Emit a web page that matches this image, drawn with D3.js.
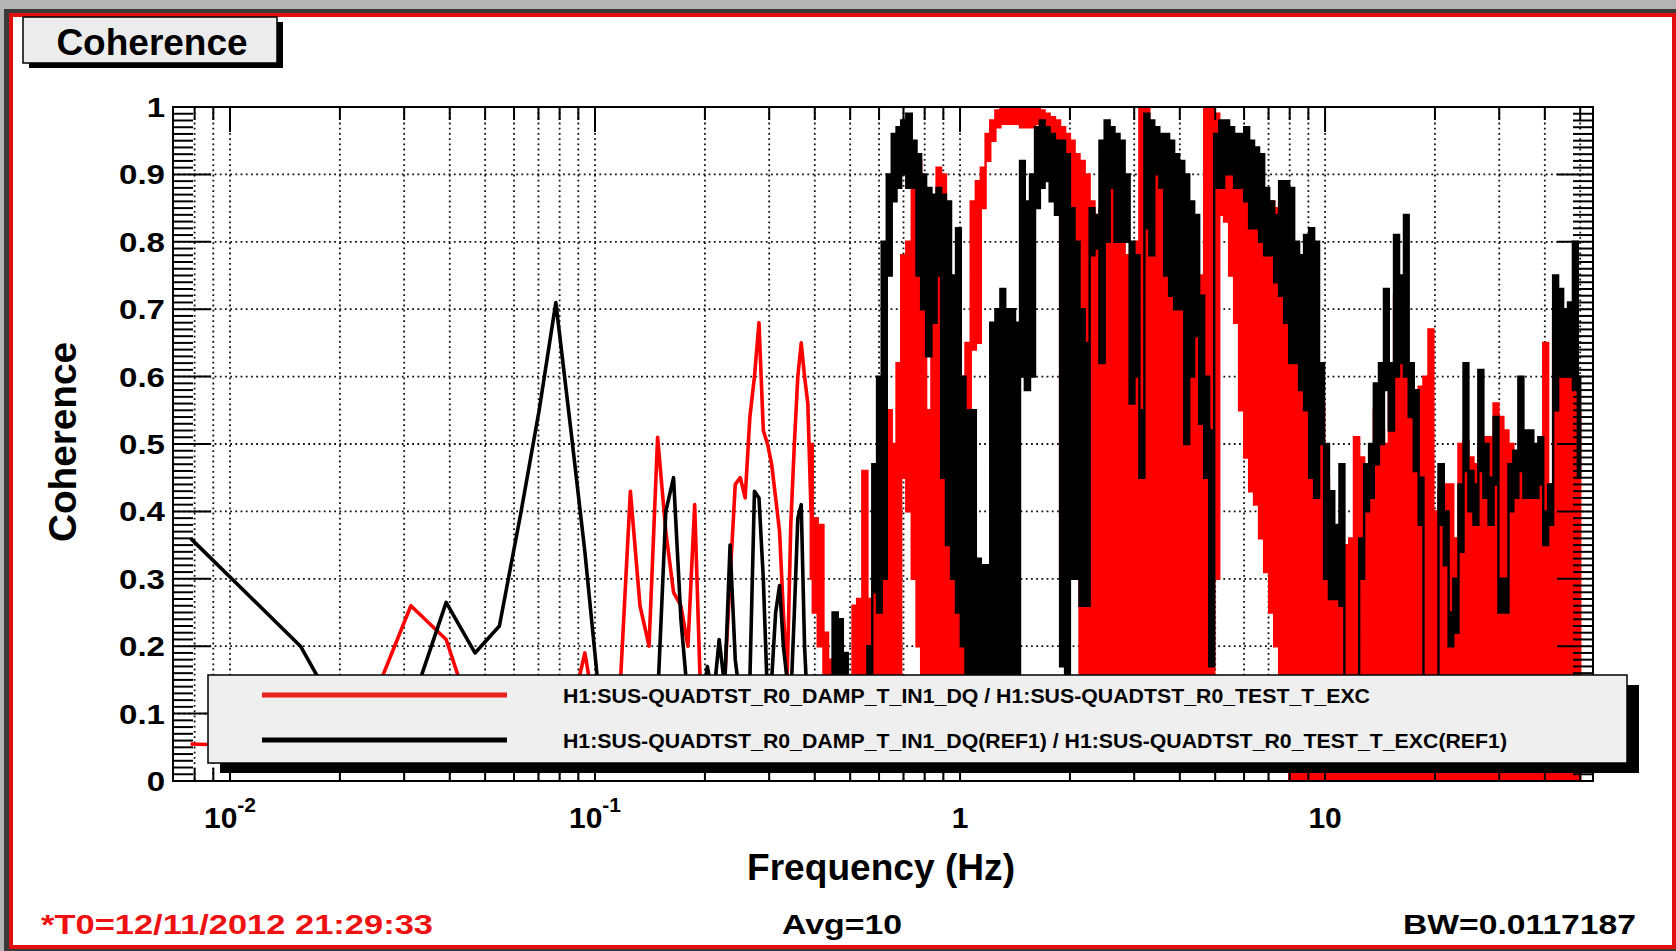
<!DOCTYPE html>
<html>
<head>
<meta charset="utf-8">
<title>Coherence</title>
<script src="https://d3js.org/d3.v7.min.js"></script>
<style>
  body { margin: 0; background: #b4b4b4; }
  text { font-family: "Liberation Sans", Arial, sans-serif; font-weight: bold; }
</style>
</head>
<body>
<div id="svgcontainer"></div>
<script>
var width = 1676, height = 951;

// low frequency bins (df = 0.0078125 Hz), one value per bin
var lowFreq = [0.0078, 0.0156, 0.0234, 0.0313, 0.0391, 0.0469, 0.0547, 0.0625, 0.0703, 0.0781,
               0.0859, 0.0938, 0.1016, 0.1094, 0.1172, 0.125, 0.1328, 0.1406, 0.1484, 0.1563,
               0.1641, 0.1719, 0.1797, 0.1875, 0.1953, 0.2031, 0.2109, 0.2188, 0.2266, 0.2344,
               0.2422, 0.25, 0.2578, 0.2656, 0.2734, 0.2813, 0.2891, 0.2969, 0.3047, 0.3125,
               0.3203, 0.3281, 0.3359, 0.3438, 0.3516, 0.3594, 0.3672, 0.375, 0.3828, 0.3906];
var redLow = [0.055, 0.05, 0.09, 0.26, 0.21, 0.08, 0.05, 0.1, 0.07, 0.12,
              0.1, 0.19, 0.08, 0.06, 0.14, 0.43, 0.26, 0.2, 0.51, 0.37,
              0.28, 0.26, 0.2, 0.41, 0.1, 0.05, 0.08, 0.1, 0.15, 0.3,
              0.44, 0.45, 0.42, 0.54, 0.6, 0.68, 0.52, 0.5, 0.47, 0.42,
              0.37, 0.25, 0.15, 0.38, 0.5, 0.6, 0.65, 0.6, 0.56, 0.4];
var blackLow = [0.36, 0.2, 0.03, 0.11, 0.265, 0.19, 0.23, 0.395, 0.55, 0.71,
                0.52, 0.34, 0.15, 0.08, 0.06, 0.1, 0.05, 0.08, 0.12, 0.4,
                0.45, 0.24, 0.12, 0.08, 0.1, 0.17, 0.12, 0.21, 0.14, 0.35,
                0.18, 0.12, 0.1, 0.15, 0.43, 0.42, 0.3, 0.12, 0.15, 0.25,
                0.29, 0.2, 0.15, 0.12, 0.25, 0.39, 0.41, 0.2, 0.1, 0.08];

// above 0.39 Hz the traces are too dense to follow: max / min read per column
var denseFreq = [0.39, 0.40, 0.415, 0.43, 0.44, 0.455, 0.47, 0.485, 0.50, 0.515,
                 0.53, 0.55, 0.565, 0.585, 0.60, 0.62, 0.64, 0.66, 0.68, 0.70,
                 0.725, 0.75, 0.77, 0.795, 0.82, 0.85, 0.875, 0.90, 0.93, 0.96,
                 0.99, 1.02, 1.05, 1.09, 1.12, 1.16, 1.19, 1.23, 1.27, 1.31,
                 1.35, 1.39, 1.44, 1.48, 1.53, 1.58, 1.63, 1.68, 1.73, 1.79,
                 1.85, 1.91, 1.97, 2.03, 2.09, 2.16, 2.23, 2.30, 2.37, 2.45,
                 2.53, 2.61, 2.69, 2.78, 2.87, 2.96, 3.05, 3.15, 3.25, 3.35,
                 3.46, 3.57, 3.68, 3.80, 3.92, 4.05, 4.18, 4.31, 4.45, 4.59,
                 4.74, 4.89, 5.05, 5.21, 5.37, 5.55, 5.72, 5.91, 6.10, 6.29,
                 6.49, 6.70, 6.92, 7.14, 7.37, 7.60, 7.85, 8.10, 8.36, 8.62,
                 8.90, 9.19, 9.48, 9.78, 10.1, 10.4, 10.8, 11.1, 11.5, 11.8,
                 12.2, 12.6, 13.0, 13.4, 13.8, 14.3, 14.7, 15.2, 15.7, 16.2,
                 16.7, 17.2, 17.8, 18.3, 18.9, 19.5, 20.1, 20.8, 21.5, 22.1,
                 22.8, 23.6, 24.3, 25.1, 25.9, 26.7, 27.6, 28.5, 29.4, 30.3,
                 31.3, 32.3, 33.3, 34.4, 35.5, 36.6, 37.8, 39.0, 40.2, 41.5,
                 42.8, 44.2, 45.6, 47.0, 48.5, 50.0];
var redHi = [0.5, 0.39, 0.38, 0.22, 0.18, 0.12, 0.1, 0.12, 0.14, 0.26,
             0.27, 0.46, 0.27, 0.29, 0.3, 0.55, 0.55, 0.5, 0.62, 0.78,
             0.8, 0.93, 0.92, 0.8, 0.55, 0.75, 0.91, 0.9, 0.75, 0.6,
             0.55, 0.6, 0.65, 0.86, 0.89, 0.91, 0.96, 0.98, 0.995, 1.0,
             1.0, 1.0, 1.0, 1.0, 1.0, 1.0, 1.0, 0.995, 0.99, 0.985,
             0.98, 0.97, 0.96, 0.95, 0.93, 0.92, 0.9, 0.86, 0.82, 0.85,
             0.92, 0.9, 0.82, 0.8, 0.78, 0.78, 0.8, 1.0, 1.0, 0.95,
             0.9, 0.9, 0.92, 0.9, 0.88, 0.72, 0.7, 0.7, 0.72, 0.75,
             1.0, 1.0, 0.99, 0.97, 0.96, 0.95, 0.93, 0.92, 0.9, 0.9,
             0.88, 0.87, 0.86, 0.86, 0.85, 0.86, 0.84, 0.78, 0.72, 0.68,
             0.62, 0.56, 0.56, 0.56, 0.45, 0.33, 0.33, 0.34, 0.35, 0.36,
             0.51, 0.48, 0.46, 0.45, 0.55, 0.52, 0.5, 0.61, 0.72, 0.72,
             0.6, 0.6, 0.575, 0.585, 0.6, 0.67, 0.4, 0.43, 0.44, 0.44,
             0.36, 0.5, 0.505, 0.48, 0.47, 0.5, 0.51, 0.51, 0.56, 0.54,
             0.52, 0.5, 0.47, 0.47, 0.45, 0.45, 0.44, 0.44, 0.65, 0.44,
             0.69, 0.665, 0.66, 0.62, 0.58, 0.55];
var redLo = [0.3, 0.25, 0.2, 0.05, 0.03, 0.03, 0.03, 0.03, 0.03, 0.03,
             0.03, 0.03, 0.03, 0.03, 0.03, 0.03, 0.03, 0.05, 0.1, 0.45,
             0.4, 0.3, 0.2, 0.05, 0.03, 0.03, 0.03, 0.05, 0.03, 0.03,
             0.03, 0.03, 0.05, 0.64, 0.65, 0.85, 0.92, 0.95, 0.97, 0.975,
             0.975, 0.975, 0.975, 0.97, 0.97, 0.97, 0.975, 0.97, 0.96, 0.95,
             0.94, 0.3, 0.3, 0.35, 0.5, 0.1, 0.03, 0.03, 0.03, 0.03,
             0.03, 0.03, 0.03, 0.03, 0.03, 0.03, 0.03, 0.03, 0.03, 0.03,
             0.05, 0.1, 0.03, 0.03, 0.03, 0.03, 0.03, 0.03, 0.03, 0.03,
             0.03, 0.03, 0.3, 0.84, 0.83, 0.75, 0.68, 0.55, 0.48, 0.43,
             0.41, 0.36, 0.31, 0.25, 0.2, 0.1, 0.03, 0, 0, 0,
             0, 0, 0, 0, 0, 0, 0, 0, 0, 0,
             0, 0, 0, 0, 0, 0, 0, 0, 0, 0,
             0, 0, 0, 0, 0, 0, 0, 0, 0, 0,
             0, 0, 0, 0, 0, 0, 0, 0, 0, 0,
             0, 0, 0, 0, 0, 0, 0, 0, 0, 0,
             0, 0, 0, 0, 0, 0];
var blackHi = [0.1, 0.08, 0.08, 0.1, 0.12, 0.25, 0.24, 0.19, 0.1, 0.12,
               0.14, 0.12, 0.2, 0.47, 0.6, 0.8, 0.9, 0.96, 0.97, 0.98,
               0.99, 0.95, 0.93, 0.9, 0.88, 0.87, 0.88, 0.87, 0.86, 0.75,
               0.82, 0.6, 0.55, 0.55, 0.33, 0.32, 0.32, 0.68, 0.7, 0.73,
               0.7, 0.7, 0.68, 0.92, 0.86, 0.9, 0.97, 0.98, 0.97, 0.96,
               0.95, 0.95, 0.93, 0.85, 0.8, 0.7, 0.65, 0.85, 0.84, 0.95,
               0.98, 0.97, 0.96, 0.95, 0.9, 0.8, 0.78, 0.55, 0.99, 0.98,
               0.97, 0.96, 0.96, 0.95, 0.93, 0.92, 0.9, 0.86, 0.84, 0.72,
               0.6, 0.52, 0.96, 0.98, 0.98, 0.97, 0.96, 0.96, 0.97, 0.95,
               0.94, 0.93, 0.88, 0.86, 0.84, 0.89, 0.89, 0.88, 0.8, 0.78,
               0.81, 0.82, 0.8, 0.62, 0.5, 0.43, 0.38, 0.47, 0.1, 0.1,
               0.12, 0.36, 0.47, 0.5, 0.59, 0.62, 0.73, 0.62, 0.81, 0.75,
               0.84, 0.62, 0.58, 0.45, 0.1, 0.1, 0.1, 0.47, 0.4, 0.25,
               0.3, 0.44, 0.62, 0.46, 0.44, 0.61, 0.5, 0.45, 0.54, 0.3,
               0.3, 0.47, 0.49, 0.6, 0.52, 0.52, 0.5, 0.51, 0.4, 0.44,
               0.75, 0.73, 0.7, 0.71, 0.8, 0.6];
var blackLo = [0.04, 0.03, 0.03, 0.03, 0.05, 0.06, 0.05, 0.04, 0.03, 0.03,
               0.04, 0.04, 0.08, 0.28, 0.25, 0.3, 0.75, 0.86, 0.88, 0.9,
               0.88, 0.88, 0.75, 0.7, 0.63, 0.68, 0.75, 0.45, 0.35, 0.3,
               0.25, 0.2, 0.03, 0.1, 0.03, 0.03, 0.03, 0.03, 0.03, 0.03,
               0.05, 0.03, 0.1, 0.6, 0.58, 0.6, 0.85, 0.88, 0.89, 0.86,
               0.84, 0.17, 0.03, 0.3, 0.3, 0.26, 0.26, 0.78, 0.79, 0.62,
               0.8, 0.88, 0.8, 0.8, 0.8, 0.56, 0.6, 0.45, 0.82, 0.78,
               0.9, 0.88, 0.75, 0.72, 0.7, 0.7, 0.5, 0.6, 0.66, 0.53,
               0.45, 0.17, 0.88, 0.88, 0.9, 0.9, 0.88, 0.88, 0.86, 0.82,
               0.82, 0.8, 0.78, 0.78, 0.74, 0.72, 0.68, 0.62, 0.62, 0.58,
               0.55, 0.45, 0.42, 0.5, 0.3, 0.27, 0.27, 0.26, 0.05, 0.05,
               0.05, 0.3, 0.4, 0.42, 0.47, 0.5, 0.58, 0.52, 0.6, 0.62,
               0.6, 0.54, 0.46, 0.38, 0.05, 0.05, 0.05, 0.38, 0.32, 0.2,
               0.22, 0.34, 0.46, 0.4, 0.38, 0.46, 0.42, 0.38, 0.44, 0.25,
               0.25, 0.4, 0.42, 0.46, 0.42, 0.42, 0.42, 0.44, 0.35, 0.38,
               0.55, 0.6, 0.6, 0.6, 0.58, 0.45];

var xDomain = [0.00698, 54.2];
var yTickLabels = ["0", "0.1", "0.2", "0.3", "0.4", "0.5", "0.6", "0.7", "0.8", "0.9", "1"];
var xTickLabels = [{v: 0.01, base: "10", exp: "-2"}, {v: 0.1, base: "10", exp: "-1"},
                   {v: 1, base: "1", exp: ""}, {v: 10, base: "10", exp: ""}];
var legendNames = ["H1:SUS-QUADTST_R0_DAMP_T_IN1_DQ / H1:SUS-QUADTST_R0_TEST_T_EXC",
                   "H1:SUS-QUADTST_R0_DAMP_T_IN1_DQ(REF1) / H1:SUS-QUADTST_R0_TEST_T_EXC(REF1)"];

var L = 173, R = 1593, T = 107, B = 781;

var svg = d3.select("#svgcontainer")
    .append("svg")
    .attr("width", width)
    .attr("height", height);

// canvas frame
svg.append("rect").attr("width", width).attr("height", height).attr("fill", "#b4b4b4");
svg.append("rect").attr("x", 4).attr("y", 9).attr("width", width - 4).attr("height", height - 9).attr("fill", "#3a3a3a");
svg.append("rect").attr("x", 11).attr("y", 15).attr("width", 1663).attr("height", 932)
    .attr("fill", "#fff").attr("stroke", "#e01010").attr("stroke-width", 4);

var x = d3.scaleLog().domain(xDomain).range([L, R]);
var y = d3.scaleLinear().domain([0, 1]).range([B, T]);

var xt = x.ticks().filter(function(d){ return d > xDomain[0] * 1.01; });
var isMajor = function(d){ return Math.abs(Math.log10(d) - Math.round(Math.log10(d))) < 1e-6; };

// dotted grid
var grid = svg.append("g").attr("stroke", "#111").attr("stroke-width", 1.8)
    .attr("stroke-dasharray", "1.8,3.4");
grid.selectAll(".vg").data(xt).enter().append("line")
    .attr("x1", function(d){ return x(d); }).attr("x2", function(d){ return x(d); })
    .attr("y1", T).attr("y2", B);
grid.selectAll(".hg").data(d3.range(1, 10)).enter().append("line")
    .attr("x1", L).attr("x2", R)
    .attr("y1", function(d){ return y(d / 10); }).attr("y2", function(d){ return y(d / 10); });

// data
svg.append("clipPath").attr("id", "clip").append("rect")
    .attr("x", L).attr("y", T).attr("width", R - L).attr("height", B - T);
var data = svg.append("g").attr("clip-path", "url(#clip)");

var low = lowFreq.map(function(f, i){ return {f: f, r: redLow[i], b: blackLow[i]}; });
var dense = denseFreq.map(function(f, i){
    return {f: f, rhi: redHi[i], rlo: redLo[i], bhi: blackHi[i], blo: blackLo[i]};
});

var lineR = d3.line().x(function(d){ return x(d.f); }).y(function(d){ return y(d.r); });
var lineB = d3.line().x(function(d){ return x(d.f); }).y(function(d){ return y(d.b); });
var areaR = d3.area().curve(d3.curveStep).x(function(d){ return x(d.f); })
    .y0(function(d){ return y(d.rlo); }).y1(function(d){ return y(d.rhi); });
var areaB = d3.area().curve(d3.curveStep).x(function(d){ return x(d.f); })
    .y0(function(d){ return y(d.blo); }).y1(function(d){ return y(d.bhi); });

data.append("path").datum(low).attr("d", lineR)
    .attr("fill", "none").attr("stroke", "#f00").attr("stroke-width", 3.6).attr("stroke-linejoin", "round");
data.append("path").datum(dense).attr("d", areaR)
    .attr("fill", "#f00").attr("stroke", "#f00").attr("stroke-width", 2.4);
data.append("path").datum(low).attr("d", lineB)
    .attr("fill", "none").attr("stroke", "#000").attr("stroke-width", 3.6).attr("stroke-linejoin", "round");
data.append("path").datum(dense).attr("d", areaB)
    .attr("fill", "#000").attr("stroke", "#000").attr("stroke-width", 2.4);

// frame and ticks
svg.append("rect").attr("x", L).attr("y", T).attr("width", R - L).attr("height", B - T)
    .attr("fill", "none").attr("stroke", "#000").attr("stroke-width", 2);

var ticks = svg.append("g").attr("stroke", "#000").attr("stroke-width", 2);
var yMinor = d3.range(0, 101);
ticks.selectAll(".yl").data(yMinor).enter().append("line")
    .attr("x1", L).attr("x2", function(d){ return L + (d % 10 === 0 ? 38 : 20); })
    .attr("y1", function(d){ return y(d / 100); }).attr("y2", function(d){ return y(d / 100); });
ticks.selectAll(".yr").data(yMinor).enter().append("line")
    .attr("x1", R).attr("x2", function(d){ return R - (d % 10 === 0 ? 36 : 20); })
    .attr("y1", function(d){ return y(d / 100); }).attr("y2", function(d){ return y(d / 100); });
ticks.selectAll(".xt").data(xt).enter().append("line")
    .attr("x1", function(d){ return x(d); }).attr("x2", function(d){ return x(d); })
    .attr("y1", T).attr("y2", function(d){ return T + (isMajor(d) ? 25 : 13); });
ticks.selectAll(".xb").data(xt).enter().append("line")
    .attr("x1", function(d){ return x(d); }).attr("x2", function(d){ return x(d); })
    .attr("y1", B).attr("y2", function(d){ return B - (isMajor(d) ? 25 : 13); });

// tick labels
svg.selectAll(".ylab").data(yTickLabels).enter().append("text")
    .attr("transform", function(d, i){ return "translate(165," + (y(i / 10) + 10) + ") scale(1.18,1)"; })
    .attr("text-anchor", "end").attr("font-size", 28).text(function(d){ return d; });

var xl = svg.selectAll(".xlab").data(xTickLabels).enter().append("text")
    .attr("x", function(d){ return x(d.v); }).attr("y", 828)
    .attr("text-anchor", "middle").attr("font-size", 30);
xl.append("tspan").text(function(d){ return d.base; });
xl.append("tspan").attr("dy", -16).attr("font-size", 21).text(function(d){ return d.exp; });

// axis titles
svg.append("text").attr("x", 881).attr("y", 880).attr("text-anchor", "middle")
    .attr("font-size", 36).attr("textLength", 268).attr("lengthAdjust", "spacingAndGlyphs")
    .text("Frequency (Hz)");
svg.append("text").attr("transform", "translate(76,442) rotate(-90)").attr("text-anchor", "middle")
    .attr("font-size", 38).attr("textLength", 200).attr("lengthAdjust", "spacingAndGlyphs")
    .text("Coherence");

// title box
svg.append("rect").attr("x", 29).attr("y", 22).attr("width", 254).attr("height", 46).attr("fill", "#000");
svg.append("rect").attr("x", 23).attr("y", 17).attr("width", 254).attr("height", 46)
    .attr("fill", "#ececec").attr("stroke", "#000").attr("stroke-width", 1.5);
svg.append("text").attr("x", 152).attr("y", 55).attr("text-anchor", "middle")
    .attr("font-size", 37).text("Coherence");

// legend
var lg = svg.append("g");
lg.append("rect").attr("x", 220).attr("y", 685).attr("width", 1419).attr("height", 88).attr("fill", "#000");
lg.append("rect").attr("x", 208).attr("y", 675).attr("width", 1419).attr("height", 88)
    .attr("fill", "#efefef").attr("stroke", "#000").attr("stroke-width", 1.5);
var legendColors = ["#e8221c", "#000"];
var legendY = [695, 740];
var legendLen = [807, 944];
lg.selectAll(".ll").data(legendNames).enter().append("line")
    .attr("x1", 262).attr("x2", 507)
    .attr("y1", function(d, i){ return legendY[i]; }).attr("y2", function(d, i){ return legendY[i]; })
    .attr("stroke", function(d, i){ return legendColors[i]; }).attr("stroke-width", 5);
lg.selectAll(".lt").data(legendNames).enter().append("text")
    .attr("x", 563).attr("y", function(d, i){ return legendY[i] + 8; })
    .attr("font-size", 20).attr("textLength", function(d, i){ return legendLen[i]; })
    .attr("lengthAdjust", "spacingAndGlyphs").text(function(d){ return d; });

// footer
svg.append("text").attr("x", 41).attr("y", 934).attr("font-size", 28).attr("fill", "#ee1111")
    .attr("textLength", 392).attr("lengthAdjust", "spacingAndGlyphs").text("*T0=12/11/2012 21:29:33");
svg.append("text").attr("x", 782).attr("y", 934).attr("font-size", 28)
    .attr("textLength", 120).attr("lengthAdjust", "spacingAndGlyphs").text("Avg=10");
svg.append("text").attr("x", 1403).attr("y", 934).attr("font-size", 28)
    .attr("textLength", 233).attr("lengthAdjust", "spacingAndGlyphs").text("BW=0.0117187");
</script>
</body>
</html>
